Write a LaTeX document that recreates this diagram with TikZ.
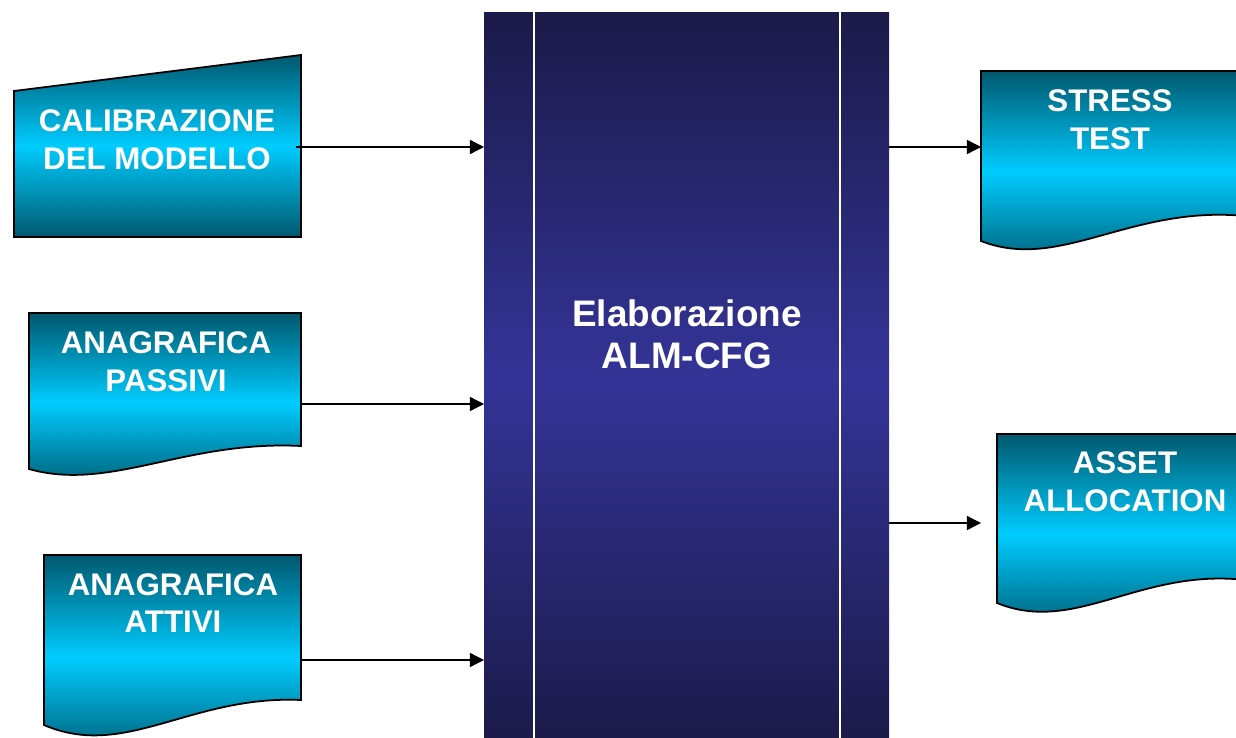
\documentclass[tikz,border=0pt]{standalone}
\usepackage{fontspec}
\setmainfont{Liberation Sans}
\usetikzlibrary{arrows.meta}
\definecolor{tealdark}{RGB}{0,88,110}
\definecolor{tealbright}{RGB}{0,204,255}
\definecolor{navydark}{RGB}{27,26,72}
\definecolor{navymid}{RGB}{52,52,152}

\begin{document}
\begin{tikzpicture}[x=0.02cm,y=-0.02cm,
    doc/.style={draw=black,line width=1pt,top color=tealdark,bottom color=tealdark,middle color=tealbright},
    lbl/.style={text=white,font=\fontsize{17.8}{21.5}\selectfont\bfseries,align=center,inner sep=0pt},
    flow/.style={-{Triangle[length=8pt,width=8pt]},line width=0.75pt}]
      \useasboundingbox (0,0) rectangle (1236,737);
      \clip (0,0) rectangle (1236,737);
      % elaborazione block
      \shade[top color=navydark,bottom color=navydark,middle color=navymid] (484,12) rectangle (889,745);
      \draw[white,line width=1.2pt] (534,12) -- (534,745);
      \draw[white,line width=1.2pt] (840,12) -- (840,745);
      \node[lbl,font=\fontsize{21}{23.8}\selectfont\bfseries] (elab) at (687,334) {Elaborazione\\ALM-CFG};
      % inputs
      \draw[doc] (14,91) -- (301,55) -- (301,237) -- (14,237) -- cycle;
      \draw[doc] (29,313) -- (301,313) -- (301,446) .. controls (185,440) and (110,492) .. (29,469) -- cycle;
      \draw[doc] (44,555) -- (301,555) -- (301,700) .. controls (190,695) and (125,760) .. (44,725) -- cycle;
      \node[lbl] (calib) at (157,140) {CALIBRAZIONE\\DEL MODELLO};
      \node[lbl] (passivi) at (166,362) {ANAGRAFICA\\PASSIVI};
      \node[lbl] (attivi) at (173,603) {ANAGRAFICA\\ATTIVI};
      % outputs
      \draw[doc] (981,71) -- (1245,71) -- (1245,216) .. controls (1130,205) and (1060,272) .. (981,241) -- cycle;
      \draw[doc] (997,434) -- (1245,434) -- (1245,580) .. controls (1140,568) and (1075,635) .. (997,603) -- cycle;
      \node[lbl] (stress) at (1110,120) {STRESS\\TEST};
      \node[lbl] (asset) at (1125,482) {ASSET\\ALLOCATION};
      % connectors
      \coordinate (calib-out) at (296,147);
      \coordinate (passivi-out) at (301,404);
      \coordinate (attivi-out) at (301,660);
      \coordinate (elab-in1) at (484,147);
      \coordinate (elab-in2) at (484,404);
      \coordinate (elab-in3) at (484,660);
      \coordinate (elab-out1) at (889,147);
      \coordinate (elab-out2) at (889,523);
      \coordinate (stress-in) at (981,147);
      \coordinate (asset-in) at (981,523);
      \draw[flow] (calib-out) -- (elab-in1);
      \draw[flow] (passivi-out) -- (elab-in2);
      \draw[flow] (attivi-out) -- (elab-in3);
      \draw[flow] (elab-out1) -- (stress-in);
      \draw[flow] (elab-out2) -- (asset-in);
\end{tikzpicture}
\end{document}
